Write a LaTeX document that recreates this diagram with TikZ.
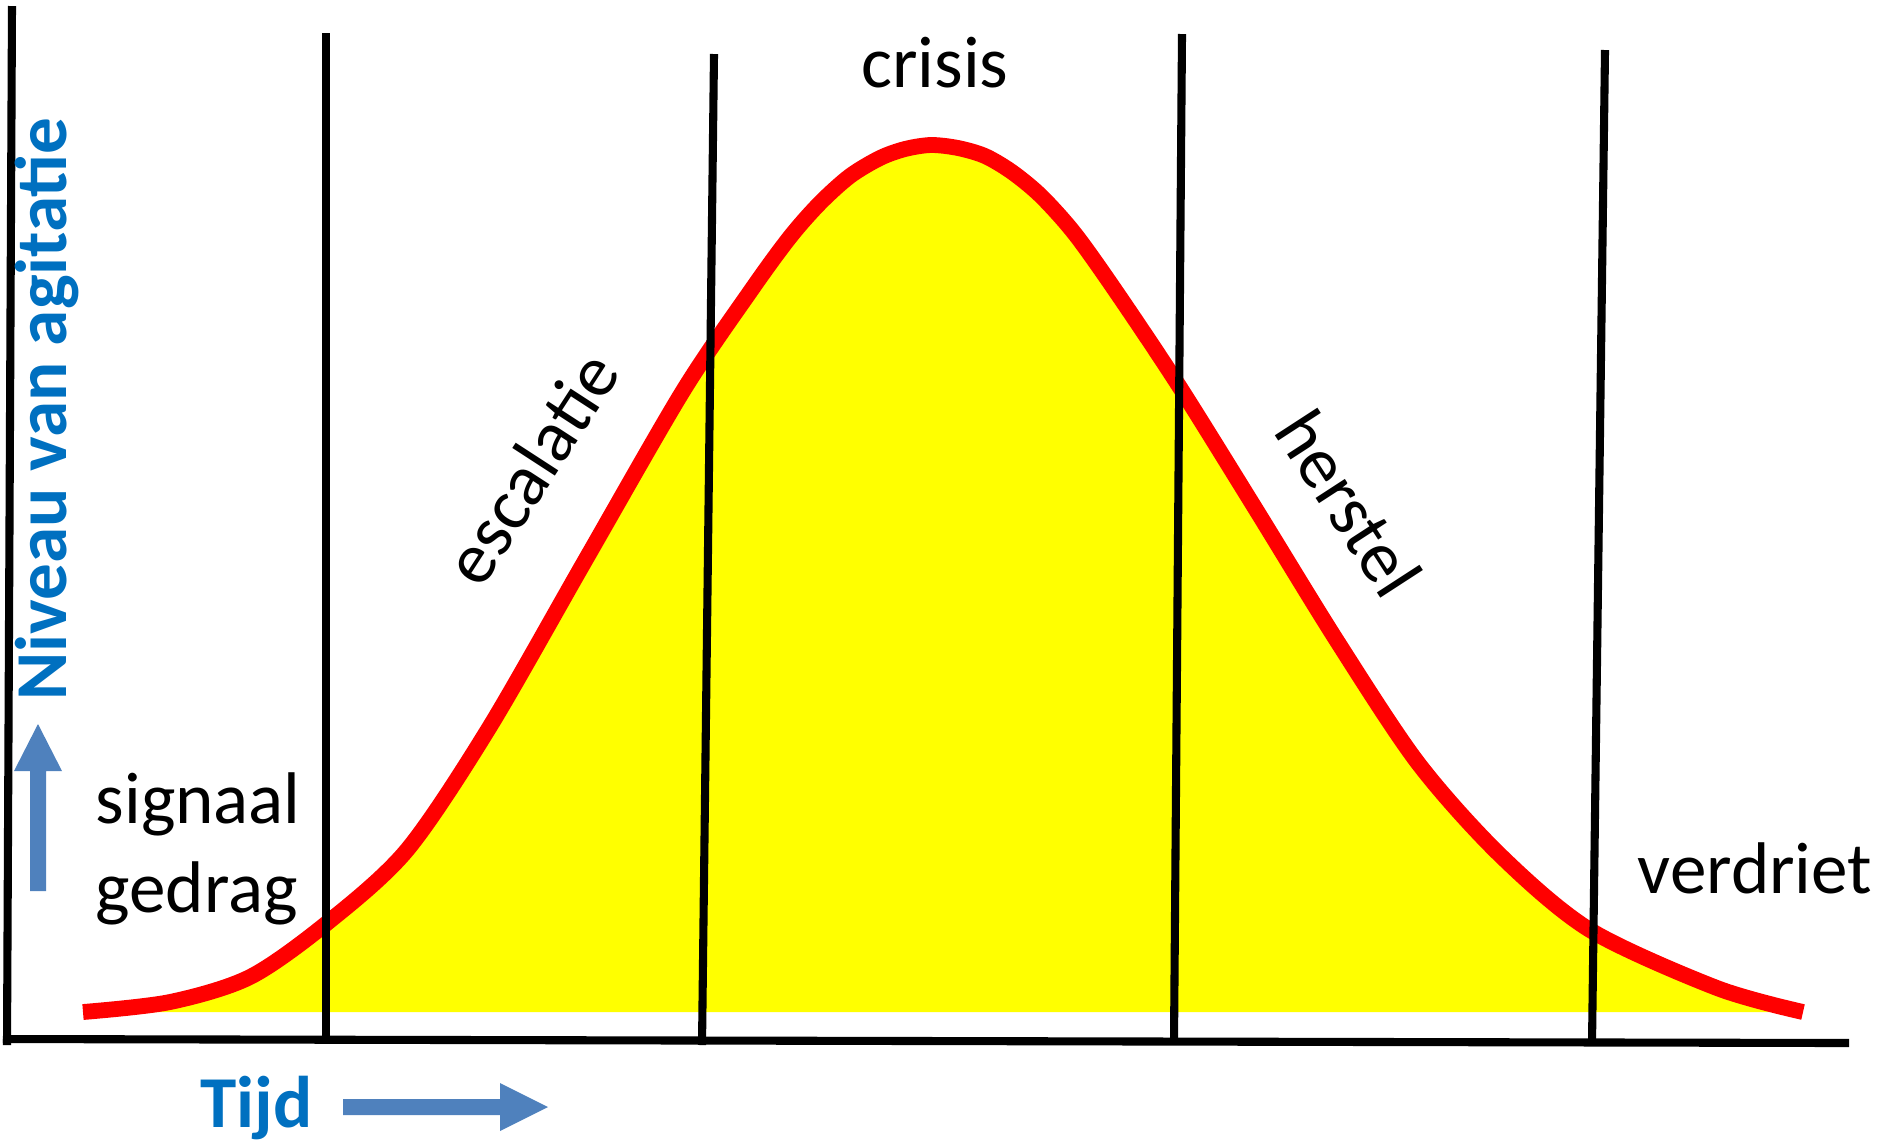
\documentclass[tikz,border=0pt]{standalone}
\usepackage{fontspec}
\setmainfont{Carlito}
\definecolor{niveaublue}{HTML}{0070C0}
\definecolor{arrowblue}{HTML}{4F81BD}
\definecolor{curvefill}{RGB}{255,255,0}
\definecolor{curvered}{RGB}{255,0,0}

\begin{document}
\begin{tikzpicture}[x=0.01cm, y=-0.01cm,
    txt/.style={inner sep=0, font=\fontsize{20.8}{25.3}\selectfont},
    bluetxt/.style={inner sep=0, text=niveaublue, font=\fontsize{20.8}{25.3}\selectfont\bfseries},
    phaseline/.style={line width=2.3pt},
    blockarrow/.style={fill=arrowblue}]
    \useasboundingbox (0,0) rectangle (1879,1141);

    \draw[curvered, line width=4.5pt, fill=curvefill] plot[smooth, tension=0.5] coordinates {
        (83,1012) (170,1002) (250,977) (327,923) (407,850) (489,728) (586,559) (683,391)
        (752,289) (790,237) (820,203) (850,176) (880,158) (905,149) (931,145) (958,148)
        (985,156) (1012,172) (1041,196) (1075,234) (1117,293) (1179,386) (1255,508)
        (1337,641) (1418,763) (1500,855) (1590,930) (1717,988) (1803,1012)};

    \foreach \xa/\ya/\xb/\yb in {326/33/326/1039, 714/54/702/1045, 1182/34/1174/1041, 1605/50/1592/1043}
        \draw[phaseline] (\xa,\ya) -- (\xb,\yb);
    \draw[phaseline] (12,6) -- (7,1045);
    \draw[phaseline] (3,1039) -- (1849,1043);

    \fill[blockarrow] (30,891) -- (30,771) -- (14,771) -- (38,724) -- (62,771) -- (46,771) -- (46,891) -- cycle;
    \fill[blockarrow] (343,1099) -- (500,1099) -- (500,1083) -- (548,1107) -- (500,1131) -- (500,1115) -- (343,1115) -- cycle;

    \node (crisis) [txt, anchor=base] at (935,87) {crisis};
    \node (escalatie) [txt, rotate=57] at (531,468) {escalatie};
    \node (herstel) [txt, rotate=-57] at (1349,503) {herstel};
    \node (signaal) [txt, anchor=base west] at (95,823) {signaal};
    \node (gedrag) [txt, anchor=base west] at (95,912) {gedrag};
    \node (verdriet) [txt, anchor=base west] at (1637,893) {verdriet};
    \node (niveau) [bluetxt, rotate=90, anchor=base west] at (66,701) {Niveau van agitatie};
    \node (tijd) [bluetxt, anchor=base west] at (200,1127) {Tijd};
\end{tikzpicture}
\end{document}
